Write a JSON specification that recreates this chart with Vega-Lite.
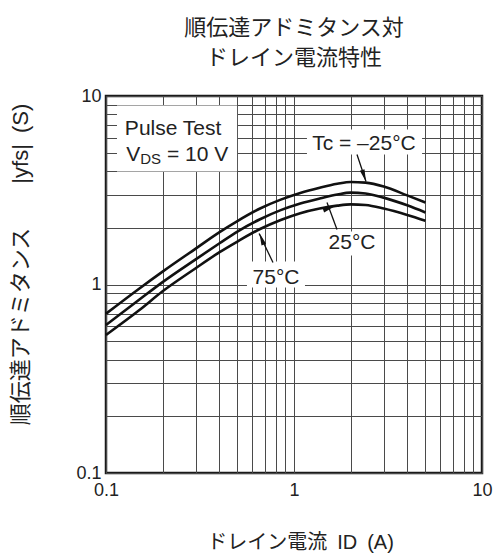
{
  "$schema": "https://vega.github.io/schema/vega-lite/v6.json",
  "width": 376,
  "height": 377,
  "autosize": {"type": "none"},
  "padding": {"left": 106, "top": 96, "right": 14, "bottom": 86},
  "background": "white",
  "config": {
    "view": {"stroke": "#1a1a1a", "strokeWidth": 2.5},
    "font": "Liberation Sans, Noto Sans CJK JP"
  },
  "title": {
    "text": ["順伝達アドミタンス対", "ドレイン電流特性"],
    "font": "Noto Sans CJK JP",
    "fontSize": 22,
    "fontWeight": "normal",
    "color": "#222222",
    "lineHeight": 30,
    "offset": 17,
    "frame": "group",
    "anchor": "middle"
  },
  "datasets": {
    "curves": [
      {"series": "-25", "x": 0.1, "y": 0.70}, {"series": "-25", "x": 0.15, "y": 0.95}, {"series": "-25", "x": 0.2, "y": 1.17}, {"series": "-25", "x": 0.3, "y": 1.55}, {"series": "-25", "x": 0.4, "y": 1.89}, {"series": "-25", "x": 0.5, "y": 2.17}, {"series": "-25", "x": 0.66, "y": 2.53}, {"series": "-25", "x": 0.85, "y": 2.82}, {"series": "-25", "x": 1.08, "y": 3.06}, {"series": "-25", "x": 1.37, "y": 3.26}, {"series": "-25", "x": 1.7, "y": 3.42}, {"series": "-25", "x": 2.0, "y": 3.50}, {"series": "-25", "x": 2.4, "y": 3.47}, {"series": "-25", "x": 3.0, "y": 3.31}, {"series": "-25", "x": 4.0, "y": 2.97}, {"series": "-25", "x": 5.0, "y": 2.72},
      {"series": "25", "x": 0.1, "y": 0.61}, {"series": "25", "x": 0.15, "y": 0.83}, {"series": "25", "x": 0.2, "y": 1.03}, {"series": "25", "x": 0.3, "y": 1.36}, {"series": "25", "x": 0.4, "y": 1.65}, {"series": "25", "x": 0.5, "y": 1.91}, {"series": "25", "x": 0.66, "y": 2.22}, {"series": "25", "x": 0.85, "y": 2.48}, {"series": "25", "x": 1.08, "y": 2.69}, {"series": "25", "x": 1.37, "y": 2.86}, {"series": "25", "x": 1.7, "y": 3.00}, {"series": "25", "x": 2.0, "y": 3.07}, {"series": "25", "x": 2.4, "y": 3.04}, {"series": "25", "x": 3.0, "y": 2.89}, {"series": "25", "x": 4.0, "y": 2.63}, {"series": "25", "x": 5.0, "y": 2.41},
      {"series": "75", "x": 0.1, "y": 0.54}, {"series": "75", "x": 0.15, "y": 0.73}, {"series": "75", "x": 0.2, "y": 0.92}, {"series": "75", "x": 0.3, "y": 1.22}, {"series": "75", "x": 0.4, "y": 1.48}, {"series": "75", "x": 0.5, "y": 1.69}, {"series": "75", "x": 0.66, "y": 1.97}, {"series": "75", "x": 0.85, "y": 2.20}, {"series": "75", "x": 1.08, "y": 2.39}, {"series": "75", "x": 1.37, "y": 2.53}, {"series": "75", "x": 1.7, "y": 2.62}, {"series": "75", "x": 2.0, "y": 2.66}, {"series": "75", "x": 2.4, "y": 2.64}, {"series": "75", "x": 3.0, "y": 2.53}, {"series": "75", "x": 4.0, "y": 2.34}, {"series": "75", "x": 5.0, "y": 2.18}
    ],
    "boxes": [
      {"x": 0.1144, "x2": 0.498, "y": 3.98, "y2": 8.9},
      {"x": 1.172, "x2": 4.8, "y": 4.89, "y2": 6.64},
      {"x": 1.444, "x2": 2.903, "y": 1.425, "y2": 1.91},
      {"x": 0.562, "x2": 1.144, "y": 0.964, "y2": 1.324}
    ],
    "leaders": [
      {"label": "-25", "x": 2.163, "y": 4.89, "x2": 2.415, "y2": 3.52},
      {"label": "25", "x": 1.693, "y": 1.96, "x2": 1.498, "y2": 2.72},
      {"label": "75", "x": 0.773, "y": 1.308, "x2": 0.652, "y2": 1.865}
    ],
    "heads": [
      {"label": "-25", "x": 2.36, "y": 3.77},
      {"label": "25", "x": 1.537, "y": 2.54},
      {"label": "75", "x": 0.673, "y": 1.746}
    ],
    "notesLeft": [
      {"text": "Pulse Test", "x": 0.126, "y": 6.21},
      {"text": "V", "x": 0.128, "y": 4.52},
      {"text": "= 10 V", "x": 0.211, "y": 4.52}
    ],
    "notesSub": [
      {"text": "DS", "x": 0.152, "y": 4.36}
    ],
    "notesCenter": [
      {"text": "Tc = –25°C", "x": 2.355, "y": 5.2},
      {"text": "25°C", "x": 2.035, "y": 1.552},
      {"text": "75°C", "x": 0.802, "y": 1.012}
    ]
  },
  "encoding": {
    "x": {
      "field": "x",
      "type": "quantitative",
      "scale": {"type": "log", "domain": [0.1, 10], "nice": false},
      "axis": {
        "values": [0.1, 0.2, 0.3, 0.4, 0.5, 0.6, 0.7, 0.8, 0.9, 1, 2, 3, 4, 5, 6, 7, 8, 9, 10],
        "format": "~g",
        "labelExpr": "(datum.value == 0.1 || datum.value == 1 || datum.value == 10) ? datum.label : ''",
        "labelOverlap": false,
        "labelBound": false,
        "labelFlush": false,
        "ticks": false,
        "domain": false,
        "grid": true,
        "gridColor": "#4a4a4a",
        "gridWidth": 1,
        "labelFont": "Liberation Sans",
        "labelFontSize": 18,
        "labelColor": "#222222",
        "labelPadding": 8,
        "title": "ドレイン電流\u2002ID\u2002(A)",
        "titleFont": "Liberation Sans, Noto Sans CJK JP",
        "titleFontSize": 20,
        "titleFontWeight": "normal",
        "titleColor": "#222222",
        "titleX": 194,
        "titleY": 69,
        "titleAlign": "center",
        "titleBaseline": "middle"
      }
    },
    "y": {
      "field": "y",
      "type": "quantitative",
      "scale": {"type": "log", "domain": [0.1, 10], "nice": false},
      "axis": {
        "values": [0.1, 0.2, 0.3, 0.4, 0.5, 0.6, 0.7, 0.8, 0.9, 1, 2, 3, 4, 5, 6, 7, 8, 9, 10],
        "format": "~g",
        "labelExpr": "(datum.value == 0.1 || datum.value == 1 || datum.value == 10) ? datum.label : ''",
        "labelOverlap": false,
        "labelBound": false,
        "labelFlush": false,
        "ticks": false,
        "domain": false,
        "grid": true,
        "gridColor": "#4a4a4a",
        "gridWidth": 1,
        "labelFont": "Liberation Sans",
        "labelFontSize": 18,
        "labelColor": "#222222",
        "labelPadding": 5,
        "title": "順伝達アドミタンス\u3000\u3000|yfs|\u2002(S)",
        "titleFont": "Liberation Sans, Noto Sans CJK JP",
        "titleFontSize": 22,
        "titleFontWeight": "normal",
        "titleColor": "#222222",
        "titleAngle": -90,
        "titleX": -86,
        "titleY": 168,
        "titleAlign": "center",
        "titleBaseline": "middle"
      }
    }
  },
  "layer": [
    {
      "data": {"name": "boxes"},
      "mark": {"type": "rect", "fill": "white", "stroke": null},
      "encoding": {"x2": {"field": "x2"}, "y2": {"field": "y2"}}
    },
    {
      "data": {"name": "curves"},
      "mark": {"type": "line", "color": "#111111", "strokeWidth": 2.6, "interpolate": "monotone"},
      "encoding": {"detail": {"field": "series", "type": "nominal"}}
    },
    {
      "data": {"name": "leaders"},
      "mark": {"type": "rule", "color": "#111111", "strokeWidth": 1.3},
      "encoding": {"x2": {"field": "x2"}, "y2": {"field": "y2"}}
    },
    {
      "data": {"name": "heads"},
      "mark": {"type": "point", "shape": "M0,-1L0.4,1L-0.4,1Z", "filled": true, "color": "#111111", "size": 150, "opacity": 1},
      "encoding": {
        "angle": {"field": "label", "type": "nominal", "scale": {"domain": ["-25", "25", "75"], "range": [161.6, -20.3, -25.8]}, "legend": null}
      }
    },
    {
      "data": {"name": "notesLeft"},
      "mark": {"type": "text", "align": "left", "baseline": "alphabetic", "font": "Liberation Sans", "fontSize": 21, "color": "#222222"},
      "encoding": {"text": {"field": "text"}}
    },
    {
      "data": {"name": "notesSub"},
      "mark": {"type": "text", "align": "left", "baseline": "alphabetic", "font": "Liberation Sans", "fontSize": 15, "color": "#222222"},
      "encoding": {"text": {"field": "text"}}
    },
    {
      "data": {"name": "notesCenter"},
      "mark": {"type": "text", "align": "center", "baseline": "alphabetic", "font": "Liberation Sans", "fontSize": 21, "color": "#222222"},
      "encoding": {"text": {"field": "text"}}
    }
  ]
}
